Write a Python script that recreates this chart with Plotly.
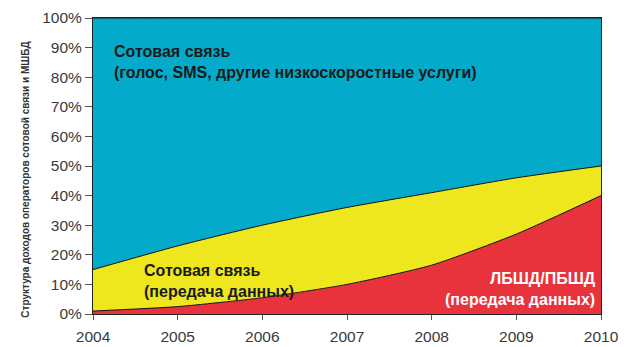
import plotly.graph_objects as go

years = [2004, 2005, 2006, 2007, 2008, 2009, 2010]
# revenue shares, % of total
broadband_data = [1.0, 2.5, 5.5, 10.0, 16.5, 27.0, 40.0]
cellular_data = [14.0, 20.5, 24.5, 26.0, 24.5, 19.0, 10.0]
cellular_voice = [85.0, 77.0, 70.0, 64.0, 59.0, 54.0, 50.0]

y_ticks = [0, 10, 20, 30, 40, 50, 60, 70, 80, 90, 100]
y_tick_text = [f"{v}%" for v in y_ticks]

RED = "#E8323C"
YELLOW = "#EEE71E"
BLUE = "#04AAC9"

fig = go.Figure()
for vals, col in [(broadband_data, RED), (cellular_data, YELLOW), (cellular_voice, BLUE)]:
    fig.add_trace(go.Scatter(
        x=years, y=vals, stackgroup="s", mode="lines",
        line=dict(color="#111111", width=1, shape="spline", smoothing=0.6),
        fillcolor=col, hoverinfo="skip", showlegend=False,
    ))

fig.update_layout(
    width=624, height=347,
    margin=dict(l=93, r=23, t=18, b=33),
    paper_bgcolor="white", plot_bgcolor="white",
    font=dict(family="Liberation Sans, Arial, sans-serif"),
    xaxis=dict(
        range=[2004, 2010], tickvals=years, ticks="outside", ticklen=5,
        ticklabelstandoff=3, automargin=False,
        tickcolor="#555", showgrid=False, zeroline=False,
        showline=True, linecolor="#222", linewidth=1, mirror=True,
        tickfont=dict(size=15.5, color="#3a3a3a"),
    ),
    yaxis=dict(
        range=[0, 100], tickvals=y_ticks, ticktext=y_tick_text, automargin=False,
        ticks="outside", ticklen=7, tickcolor="#555", showgrid=False,
        zeroline=False, showline=True, linecolor="#222", linewidth=1, mirror=True,
        tickfont=dict(size=15.5, color="#3a3a3a"),
    ),
)

fig.add_annotation(
    text="<b>Структура доходов операторов сотовой связи и МШБД</b>",
    xref="paper", yref="paper", x=-0.148, y=0.455, textangle=-90,
    showarrow=False, font=dict(size=10, color="#333", family="Liberation Sans"),
)
fig.add_annotation(
    text="<b>Сотовая связь<br>(голос, SMS, другие низкоскоростные услуги)</b>",
    xref="x", yref="y", x=2004.23, y=85, xanchor="left", yanchor="middle",
    align="left", showarrow=False, font=dict(size=16, color="#1a1a1a"),
)
fig.add_annotation(
    text="<b>Сотовая связь<br>(передача данных)</b>",
    xref="x", yref="y", x=2004.58, y=11.1, xanchor="left", yanchor="middle",
    align="left", showarrow=False, font=dict(size=16, color="#1a1a1a"),
)
fig.add_annotation(
    text="<b>ЛБШД/ПБШД<br>(передача данных)</b>",
    xref="x", yref="y", x=2009.96, y=8.6, xanchor="right", yanchor="middle",
    align="right", showarrow=False, font=dict(size=16, color="white"),
)

fig.write_html("out.html")
